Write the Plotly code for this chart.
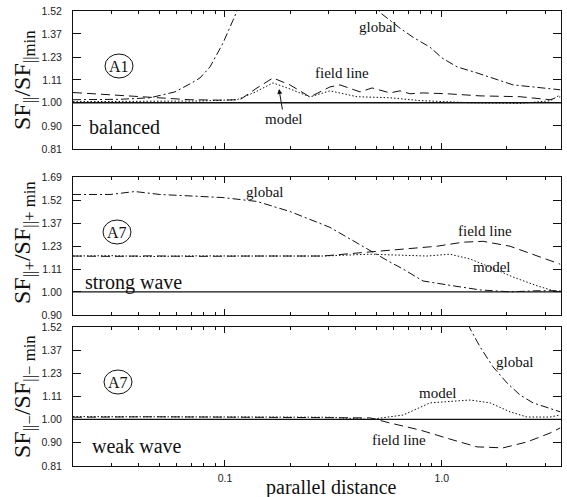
import math
import plotly.graph_objects as go

# ---------------- data ----------------
# Panel 1 (A1, balanced)
g1_x = [0.0199, 0.0265, 0.0328, 0.0451, 0.0588, 0.0689, 0.0767, 0.0853, 0.0979, 0.1089, 0.12, 0.15, 0.25, 0.40,
        0.519, 0.642, 0.737, 0.883, 1.003, 1.177, 1.455, 1.80, 2.133, 2.638, 3.52]
g1_y = [1.014, 1.014, 1.016, 1.023, 1.051, 1.09, 1.12, 1.178, 1.313, 1.458, 1.60, 2.0, 2.4, 2.0,
        1.51, 1.406, 1.349, 1.289, 1.227, 1.178, 1.146, 1.11, 1.085, 1.075, 1.061]
f1_x = [0.0199, 0.0265, 0.0364, 0.0501, 0.0689, 0.0948, 0.1173, 0.1405, 0.1665, 0.1995, 0.2467, 0.305, 0.3394,
        0.4197, 0.477, 0.5772, 0.642, 0.714, 0.82, 1.058, 1.502, 2.298, 3.16, 3.52]
f1_y = [1.048, 1.04, 1.03, 1.023, 1.014, 1.012, 1.014, 1.07, 1.12, 1.085, 1.027, 1.075, 1.085,
        1.051, 1.07, 1.046, 1.056, 1.042, 1.046, 1.042, 1.032, 1.028, 1.014, 1.028]
m1_x = [0.0199, 0.0265, 0.0451, 0.0767, 0.1136, 0.138, 0.1665, 0.1995, 0.2467, 0.305, 0.4065, 0.5772, 0.7943,
        1.351, 2.298, 3.16, 3.52]
m1_y = [1.005, 1.005, 1.005, 1.008, 1.014, 1.05, 1.095, 1.065, 1.027, 1.056, 1.028, 1.023, 1.01,
        1.0, 0.997, 1.009, 1.037]

# Panel 2 (A7, strong wave)
g2_x = [0.0199, 0.0295, 0.0384, 0.0501, 0.0767, 0.0979, 0.1405, 0.1995, 0.305, 0.4519, 0.5772, 0.6628, 0.8199,
        1.127, 1.502, 2.066, 2.753, 3.52]
g2_y = [1.561, 1.561, 1.582, 1.561, 1.547, 1.539, 1.512, 1.444, 1.343, 1.216, 1.146, 1.11, 1.051,
        1.028, 1.009, 1.0, 1.005, 1.005]
f2_x = [0.0199, 0.03, 0.0451, 0.07, 0.1304, 0.2, 0.2833, 0.4519, 0.5772, 0.9513, 1.254, 1.551, 2.066, 2.753, 3.52]
f2_y = [1.178, 1.176, 1.179, 1.176, 1.178, 1.176, 1.178, 1.199, 1.21, 1.232, 1.255, 1.26, 1.232, 1.178, 1.135]
m2_x = [0.0199, 0.03, 0.0451, 0.07, 0.1304, 0.2, 0.2833, 0.4668, 0.6628, 0.8553, 1.092, 1.351, 1.671, 2.133,
        2.753, 3.405, 3.52]
m2_y = [1.178, 1.180, 1.175, 1.179, 1.178, 1.176, 1.178, 1.188, 1.183, 1.178, 1.188, 1.162, 1.12, 1.07,
        1.028, 1.0, 1.005]

# Panel 3 (A7, weak wave)
g3_x = [1.152, 1.322, 1.502, 1.725, 2.001, 2.298, 2.638, 3.52]
g3_y = [1.9, 1.536, 1.39, 1.269, 1.18, 1.117, 1.078, 1.035]
f3_x = [0.0199, 0.0451, 0.1304, 0.305, 0.4668, 0.5772, 0.7943, 1.127, 1.455, 1.918, 2.475, 3.16, 3.52]
f3_y = [1.01, 1.012, 1.01, 1.008, 1.007, 0.984, 0.953, 0.911, 0.883, 0.879, 0.903, 0.94, 0.962]
m3_x = [0.0199, 0.0451, 0.1304, 0.305, 0.4668, 0.6628, 0.883, 1.127, 1.351, 1.671, 2.066, 2.475, 3.16, 3.52]
m3_y = [1.013, 1.012, 1.012, 1.01, 1.0, 1.02, 1.078, 1.088, 1.092, 1.078, 1.035, 1.011, 1.011, 1.02]

ref_x = [0.0199, 3.55]
ref_y = [1.0, 1.0]

yticks_a = [0.81, 0.90, 1.00, 1.11, 1.23, 1.37, 1.52]
yticks_b = [0.90, 1.00, 1.11, 1.23, 1.37, 1.52, 1.69]
xticks_major = [0.1, 1.0]
xticks_major_text = ["0.1", "1.0"]
xticks_minor = [0.02, 0.03, 0.04, 0.05, 0.06, 0.07, 0.08, 0.09,
                0.2, 0.3, 0.4, 0.5, 0.6, 0.7, 0.8, 0.9, 2, 3]

# ---------------- figure ----------------
W, H = 567, 497
ML, MR, MT, MB = 73, 6, 11, 31
PW, PH = W - ML - MR, H - MT - MB


def px2paper(px, py):
    return (px - ML) / PW, (H - MB - py) / PH


SERIF = "Liberation Serif, Times New Roman, serif"
SANS = "Liberation Sans, Arial, sans-serif"
BLACK = "#111111"

fig = go.Figure()

panels = [
    ("", "y", g1_x, g1_y, f1_x, f1_y, m1_x, m1_y),
    ("2", "y2", g2_x, g2_y, f2_x, f2_y, m2_x, m2_y),
    ("3", "y3", g3_x, g3_y, f3_x, f3_y, m3_x, m3_y),
]
for sfx, yname, gx, gy, fx, fy, mx, my in panels:
    xa = "x" + sfx
    fig.add_trace(go.Scatter(x=ref_x, y=ref_y, xaxis=xa, yaxis=yname, mode="lines",
                             line=dict(color=BLACK, width=1.3), showlegend=False, hoverinfo="skip"))
    fig.add_trace(go.Scatter(x=gx, y=gy, xaxis=xa, yaxis=yname, mode="lines", name="global",
                             line=dict(color=BLACK, width=1, dash="8px,3px,2px,3px"), showlegend=False))
    fig.add_trace(go.Scatter(x=fx, y=fy, xaxis=xa, yaxis=yname, mode="lines", name="field line",
                             line=dict(color=BLACK, width=1, dash="9px,5px"), showlegend=False))
    fig.add_trace(go.Scatter(x=mx, y=my, xaxis=xa, yaxis=yname, mode="lines", name="model",
                             line=dict(color=BLACK, width=1, dash="1.5px,2px"), showlegend=False))

# domains in paper coords
d1 = [px2paper(0, 149)[1], px2paper(0, 11)[1]]
d2 = [px2paper(0, 315)[1], px2paper(0, 177)[1]]
d3 = [px2paper(0, 466)[1], px2paper(0, 327)[1]]

xrange = [math.log10(0.0199), math.log10(3.55)]


def xaxis(anchor, labels):
    return dict(type="log", range=xrange, anchor=anchor, domain=[0, 1],
                showline=True, linecolor=BLACK, linewidth=1, mirror="allticks",
                ticks="inside", ticklen=6, tickcolor=BLACK, tickwidth=1,
                tickmode="array", tickvals=xticks_major, ticktext=xticks_major_text,
                showticklabels=labels, ticklabelstandoff=2,
                tickfont=dict(family=SANS, size=10.5, color="#222222"),
                minor=dict(tickmode="array", tickvals=xticks_minor, ticks="inside",
                           ticklen=3, tickcolor=BLACK, tickwidth=1, showgrid=False),
                showgrid=False, zeroline=False)


def yaxis(anchor, dom, ticks):
    return dict(type="log", range=[math.log10(ticks[0] * 0.9995), math.log10(ticks[-1] * 1.0005)],
                anchor=anchor, domain=dom,
                showline=True, linecolor=BLACK, linewidth=1, mirror="allticks",
                ticks="inside", ticklen=8, tickcolor=BLACK, tickwidth=1,
                tickmode="array", tickvals=ticks, ticktext=["%.2f" % t for t in ticks],
                ticklabelstandoff=8,
                tickfont=dict(family=SANS, size=10.5, color="#222222"),
                showgrid=False, zeroline=False)


fig.update_layout(
    width=W, height=H,
    margin=dict(l=ML, r=MR, t=MT, b=MB, pad=0),
    paper_bgcolor="white", plot_bgcolor="white",
    xaxis=xaxis("y", False), yaxis=yaxis("x", d1, yticks_a),
    xaxis2=xaxis("y2", False), yaxis2=yaxis("x2", d2, yticks_b),
    xaxis3=xaxis("y3", True), yaxis3=yaxis("x3", d3, yticks_a),
)

ann = []


def text_at(px, py, txt, size, **kw):
    xp, yp = px2paper(px, py)
    d = dict(x=xp, y=yp, xref="paper", yref="paper", text=txt, showarrow=False,
             font=dict(family=SERIF, size=size, color=BLACK), xanchor="center", yanchor="middle")
    d.update(kw)
    ann.append(d)


# y titles
text_at(24, 80, "SF<sub>||</sub>/SF<sub>||min</sub>", 24, textangle=-90)
text_at(24, 243, "SF<sub>||+</sub>/SF<sub>||+ min</sub>", 24, textangle=-90)
text_at(24, 397, "SF<sub>||−</sub>/SF<sub>||− min</sub>", 24, textangle=-90)

# x title
text_at(331, 487, "parallel distance", 20)

# panel 1 labels
text_at(119, 66, "A1", 16)
text_at(124, 127, "balanced", 20)
text_at(378, 27, "global", 15)
text_at(342, 73, "field line", 15)
xp, yp = px2paper(279, 89)
ann.append(dict(x=xp, y=yp, xref="paper", yref="paper", text="model", showarrow=True,
                ax=5, ay=30, arrowhead=2, arrowsize=1, arrowwidth=1, arrowcolor=BLACK,
                font=dict(family=SERIF, size=15, color=BLACK)))

# panel 2 labels
text_at(117, 232, "A7", 16)
text_at(133, 282, "strong wave", 20)
text_at(265, 192, "global", 15)
text_at(485, 231, "field line", 15)
text_at(492, 267, "model", 15)

# panel 3 labels
text_at(118, 382, "A7", 16)
text_at(137, 446, "weak wave", 20)
text_at(515, 362, "global", 15)
text_at(438, 393, "model", 15)
text_at(399, 440, "field line", 15)

fig.update_layout(annotations=ann)

shapes = []
for (cx, cy) in [(119, 66), (117, 232), (118, 382)]:
    x0, y0 = px2paper(cx - 14, cy + 12)
    x1, y1 = px2paper(cx + 14, cy - 12)
    shapes.append(dict(type="circle", xref="paper", yref="paper", x0=x0, y0=y0, x1=x1, y1=y1,
                       line=dict(color=BLACK, width=1)))
fig.update_layout(shapes=shapes)

fig.write_html("out.html")
